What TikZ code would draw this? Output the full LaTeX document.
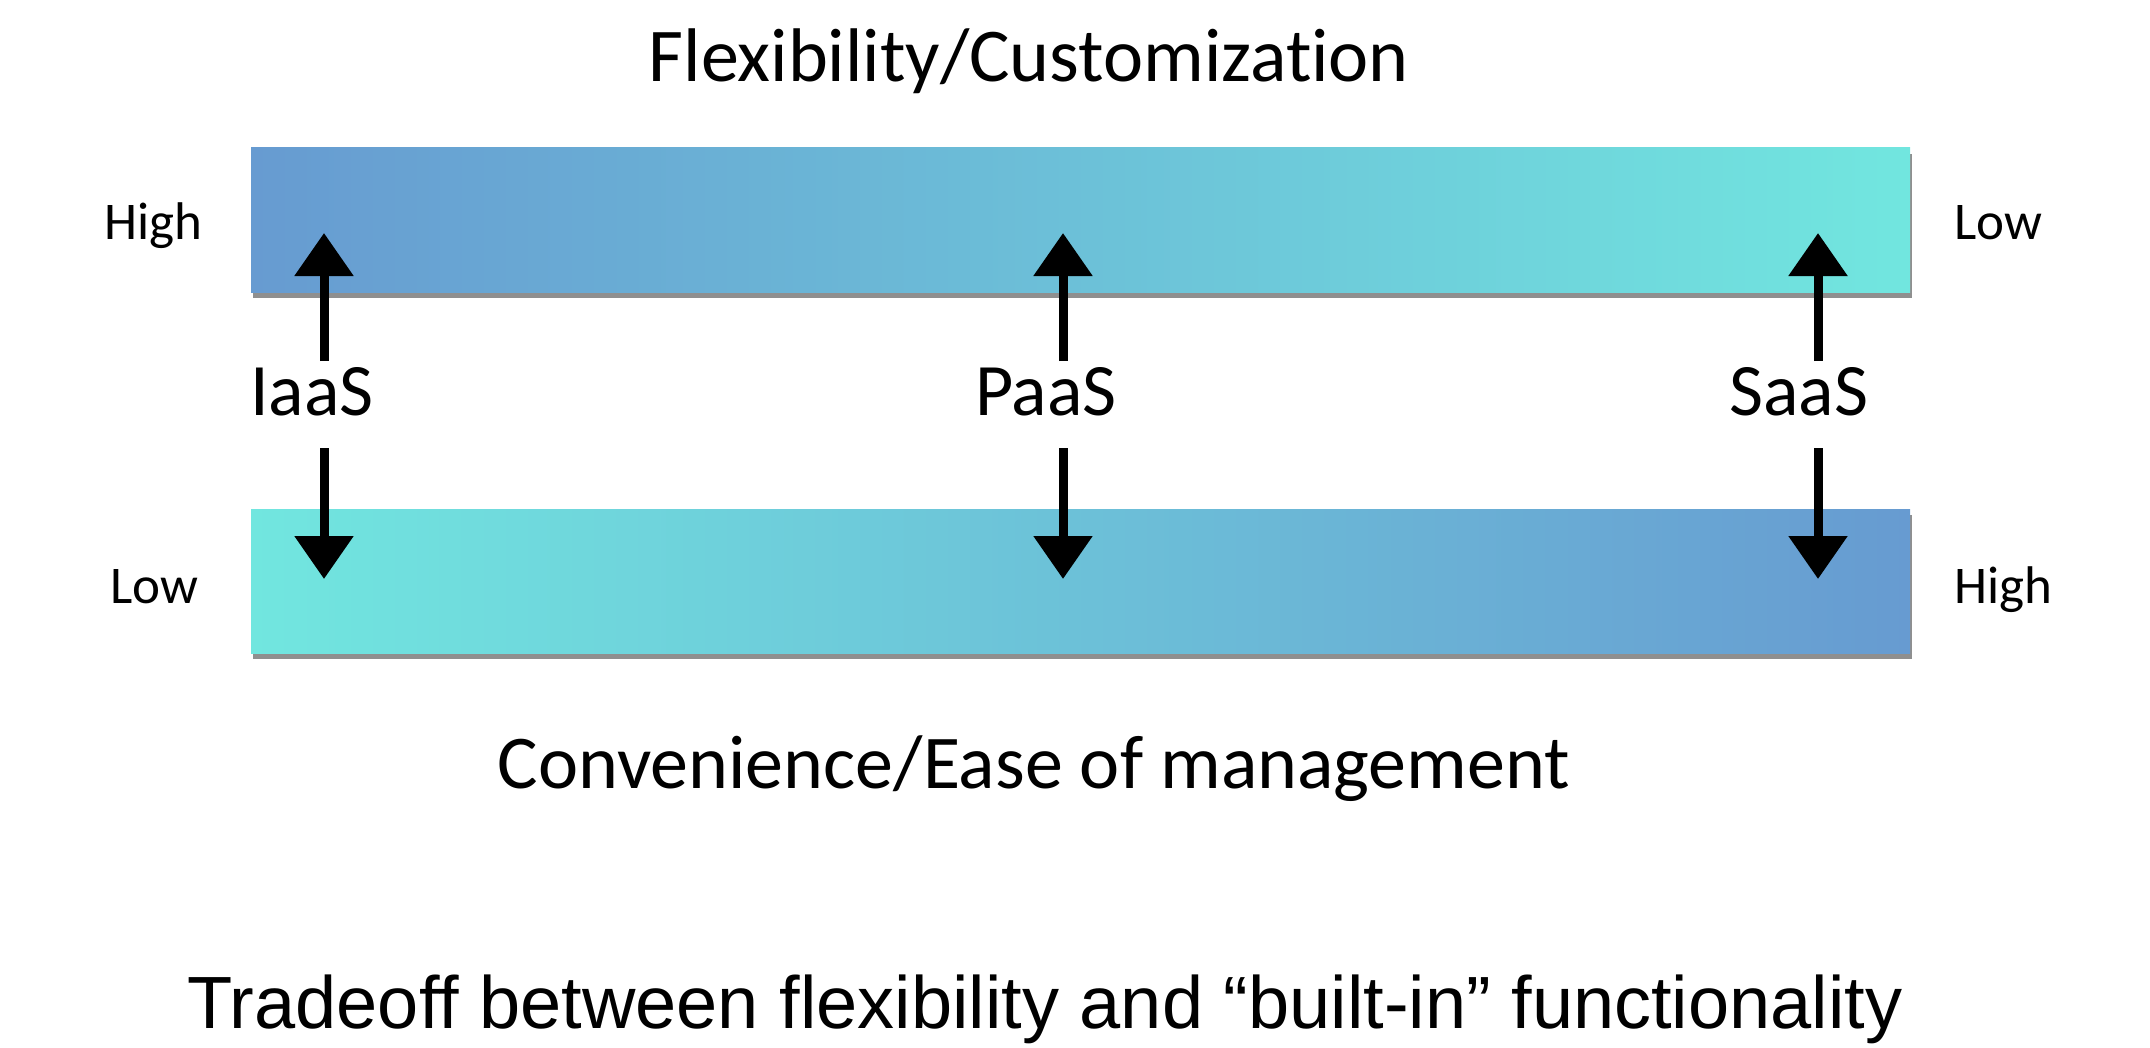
\documentclass[tikz,border=0pt]{standalone}
\usepackage{fontspec}
\setmainfont{Carlito}[Ligatures=NoCommon]
\newfontfamily\captionfont{Liberation Sans}
\usetikzlibrary{positioning}
\usetikzlibrary{arrows.meta}
\usetikzlibrary{shadows}

\definecolor{barBlue}{RGB}{103,155,209}
\definecolor{barCyan}{RGB}{113,230,223}

\tikzset{
  bar/.style={rectangle, inner sep=0pt, minimum width=829.5pt, minimum height=72pt,
    drop shadow={shadow xshift=1.2pt, shadow yshift=-2.8pt, opacity=0.55, fill=black!80}},
  heading/.style={inner sep=0pt, anchor=base, font=\fontsize{38}{44}\selectfont},
  service/.style={inner sep=0pt, anchor=base, font=\fontsize{37}{44}\selectfont},
  level/.style={inner sep=0pt, font=\fontsize{26.5}{30}\selectfont},
  servicearrow/.style={line width=4.5pt, black, -{Triangle[length=21.5pt, width=28.5pt]}}
}

\begin{document}
\begin{tikzpicture}[x=0.5pt, y=-0.5pt]
\useasboundingbox (0,0) rectangle (2150,1048);

% the two bars
\node[bar, left color=barBlue, right color=barCyan] (flexBar) at (1080.5,220) {};
\node[bar, left color=barCyan, right color=barBlue] (easeBar) at (1080.5,581.5) {};

\node[heading] (flexTitle) at (1029,82) {Flexibility/Customization};
\node[heading] (easeTitle) at (1034,788) {Convenience/Ease of management};

\node[level, anchor=base east] (flexHigh) at (203,240) {High};
\node[level, anchor=base west] (flexLow) at (1954,240) {Low};
\node[level, anchor=base east] (easeLow) at (199,603) {Low};
\node[level, anchor=base west] (easeHigh) at (1954,603) {High};

\node[service] (iaas) at (312,415) {IaaS};
\node[service] (paas) at (1046,415) {PaaS};
\node[service] (saas) at (1799,415) {SaaS};

% arrow ends
\coordinate (iaasTop) at (324,233);
\coordinate (iaasUpFoot) at (324,361);
\coordinate (iaasDownFoot) at (324,448);
\coordinate (iaasBottom) at (324,579);
\coordinate (paasTop) at (1063,233);
\coordinate (paasUpFoot) at (1063,361);
\coordinate (paasDownFoot) at (1063,448);
\coordinate (paasBottom) at (1063,579);
\coordinate (saasTop) at (1818,233);
\coordinate (saasUpFoot) at (1818,361);
\coordinate (saasDownFoot) at (1818,448);
\coordinate (saasBottom) at (1818,579);

\draw[servicearrow] (iaasUpFoot) -- (iaasTop);
\draw[servicearrow] (iaasDownFoot) -- (iaasBottom);
\draw[servicearrow] (paasUpFoot) -- (paasTop);
\draw[servicearrow] (paasDownFoot) -- (paasBottom);
\draw[servicearrow] (saasUpFoot) -- (saasTop);
\draw[servicearrow] (saasDownFoot) -- (saasBottom);

\node[inner sep=0pt, anchor=base, font=\captionfont\fontsize{37}{44}\selectfont]
  (tradeoff) at (1045,1028) {Tradeoff between flexibility and “built-in” functionality};
\end{tikzpicture}
\end{document}
